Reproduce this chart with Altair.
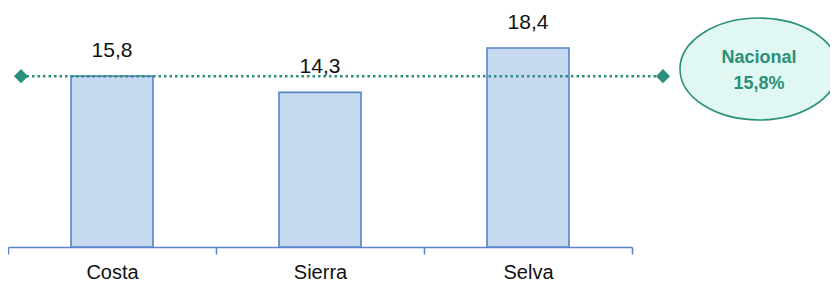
import altair as alt
import pandas as pd

regions = ["Costa", "Sierra", "Selva"]
values = [15.8, 14.3, 18.4]
value_labels = ["15,8", "14,3", "18,4"]
national_value = [15.8]
national_text = ["Nacional", "15,8%"]

BAR_FILL = "#c6d9f0"
BAR_STROKE = "#5585c5"
TEAL = "#2a9079"
FONT = "Liberation Sans"

df = pd.DataFrame({"region": regions, "value": values, "label": value_labels})
nat = pd.DataFrame({"value": national_value})

x = alt.X(
    "region:N",
    sort=regions,
    scale=alt.Scale(paddingInner=0, paddingOuter=0),
    axis=alt.Axis(
        title=None,
        labelAngle=0,
        tickBand="extent",
        tickSize=7,
        tickColor=BAR_STROKE,
        tickWidth=1.5,
        domainColor=BAR_STROKE,
        domainWidth=1.5,
        labelFont=FONT,
        labelFontSize=20,
        labelColor="#111111",
        labelPadding=8,
    ),
)
y = alt.Y("value:Q", scale=alt.Scale(domain=[0, 22.1], nice=False), axis=None)

base = alt.Chart(df)

bars = base.mark_bar(size=82, fill=BAR_FILL, stroke=BAR_STROKE, strokeWidth=1.6).encode(x=x, y=y)

labels = base.mark_text(
    dy=-19, baseline="alphabetic", fontSize=21, font=FONT, color="#111111"
).encode(x=alt.X("region:N", sort=regions), y=y, text="label:N")

line = alt.Chart(nat).mark_rule(
    color=TEAL, strokeWidth=2.5, strokeDash=[2.5, 3]
).encode(y=y, x=alt.value(13), x2=alt.value(655))

diam_l = alt.Chart(nat).mark_point(
    shape="diamond", size=200, filled=True, color=TEAL, opacity=1
).encode(y=y, x=alt.value(13))
diam_r = alt.Chart(nat).mark_point(
    shape="diamond", size=200, filled=True, color=TEAL, opacity=1
).encode(y=y, x=alt.value(655))

ellipse = alt.Chart(nat).mark_point(
    shape="M-1,0A1,0.645 0 1,1 1,0A1,0.645 0 1,1 -1,0Z",
    size=158 * 158,
    filled=True,
    fill="#e0f7f3",
    stroke=TEAL,
    strokeWidth=1.6,
    opacity=1,
    fillOpacity=1,
).encode(x=alt.value(751), y=alt.value(61))

t1 = alt.Chart(pd.DataFrame({"t": [national_text[0]]})).mark_text(
    font=FONT, fontSize=18, fontWeight="bold", color=TEAL, baseline="alphabetic"
).encode(x=alt.value(751), y=alt.value(55), text="t:N")
t2 = alt.Chart(pd.DataFrame({"t": [national_text[1]]})).mark_text(
    font=FONT, fontSize=18, fontWeight="bold", color=TEAL, baseline="alphabetic"
).encode(x=alt.value(751), y=alt.value(81), text="t:N")

chart = (
    alt.layer(bars, line, diam_l, diam_r, labels, ellipse, t1, t2)
    .properties(
        width=624,
        height=239,
        autosize=alt.AutoSizeParams(type="none"),
        padding={"left": 0, "top": 0, "right": 198, "bottom": 36},
    )
    .configure_view(stroke=None)
)

chart.save("out.html", embed_options={"renderer": "svg", "actions": False})
